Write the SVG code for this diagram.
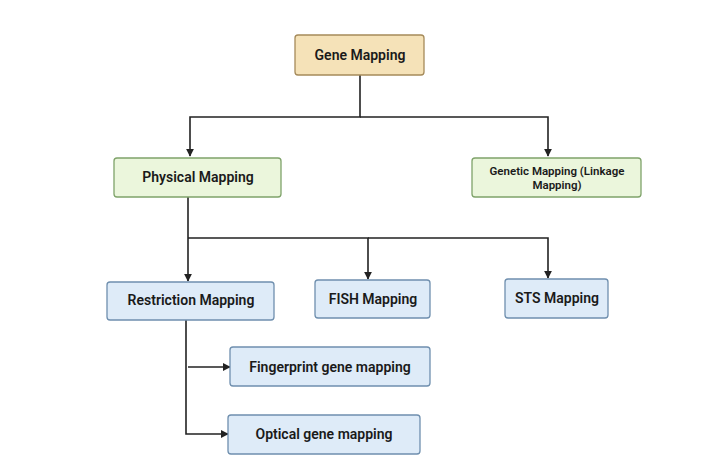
<svg xmlns="http://www.w3.org/2000/svg" width="720" height="474" viewBox="0 0 720 474">
<style>
.n{stroke-width:1.3;rx:3}
.y{fill:#f5e2b8;stroke:#a58a5a}
.g{fill:#ebf6dc;stroke:#7fa36a}
.b{fill:#deebf8;stroke:#6f8fae}
text{font-family:Roboto,"Liberation Sans",sans-serif;font-weight:600;fill:#1a1a1a;text-anchor:middle;font-size:14px}
.c{fill:none;stroke:#222;stroke-width:1.6}
</style>
<defs><marker id="a" viewBox="0 0 10 10" refX="9" refY="5" markerWidth="5" markerHeight="5" orient="auto"><path d="M0,0L10,5L0,10z" fill="#222"/></marker></defs>
<rect width="720" height="474" fill="#fff"/>
<g id="connectors">
<path class="c" d="M360,75V117H190V156" marker-end="url(#a)"/>
<path class="c" d="M360,117H548V156" marker-end="url(#a)"/>
<path class="c" d="M188,197V281" marker-end="url(#a)"/>
<path class="c" d="M188,238H368V279" marker-end="url(#a)"/>
<path class="c" d="M368,238H548V278" marker-end="url(#a)"/>
<path class="c" d="M186,320V434H228" marker-end="url(#a)"/>
<path class="c" d="M188,367H230" marker-end="url(#a)"/>
</g>
<g id="gene"><rect class="n y" x="295" y="35" width="129" height="40"/><text x="360" y="60">Gene Mapping</text></g>
<g id="physical"><rect class="n g" x="114" y="158" width="167" height="39"/><text x="198" y="182">Physical Mapping</text></g>
<g id="genetic"><rect class="n g" x="472" y="158" width="169" height="39"/><text x="557" y="175" style="font-size:11.5px">Genetic Mapping (Linkage</text><text x="557" y="189" style="font-size:11.5px">Mapping)</text></g>
<g id="restriction"><rect class="n b" x="107" y="282" width="167" height="38"/><text x="191" y="305">Restriction Mapping</text></g>
<g id="fish"><rect class="n b" x="315" y="280" width="115" height="38"/><text x="373" y="304">FISH Mapping</text></g>
<g id="sts"><rect class="n b" x="505" y="279" width="103" height="39"/><text x="557" y="303">STS Mapping</text></g>
<g id="fingerprint"><rect class="n b" x="230" y="347" width="200" height="39"/><text x="330" y="372">Fingerprint gene mapping</text></g>
<g id="optical"><rect class="n b" x="228" y="415" width="192" height="39"/><text x="324" y="439">Optical gene mapping</text></g>
</svg>
